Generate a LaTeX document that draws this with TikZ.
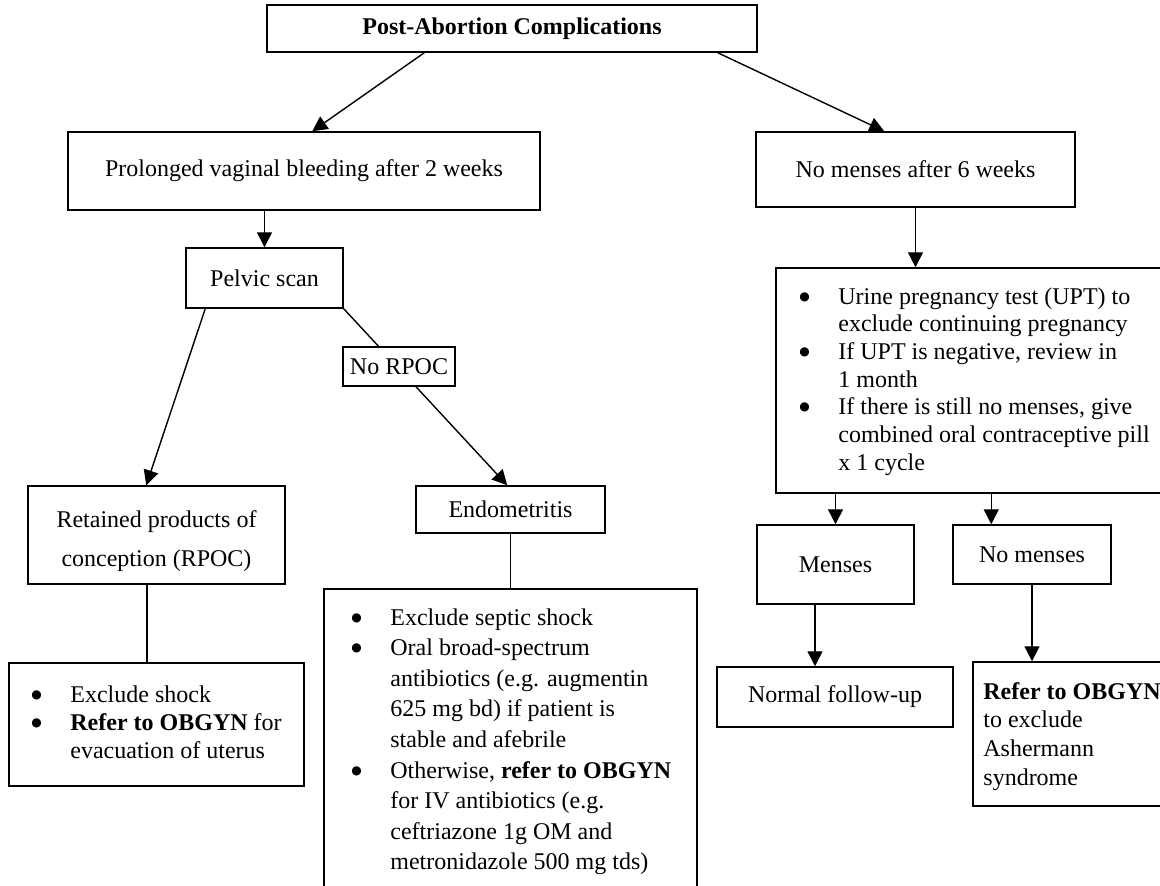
\documentclass[tikz,border=0pt]{standalone}
\usepackage{fontspec}
\setmainfont{Liberation Serif}
\newfontfamily\bulfont{DejaVu Sans}
\usetikzlibrary{arrows.meta}
\newlength\bulind
\setlength\bulind{19.5pt}
\newcommand\blt[1]{\makebox[\bulind][l]{\raisebox{2pt}{\bulfont\fontsize{6}{6}\selectfont ●}}#1}
\newcommand\cont{\hspace*{\bulind}}
\begin{document}
\begin{tikzpicture}[x=0.5pt,y=-0.5pt,
  box/.style={draw, line width=0.75pt, inner sep=0pt, align=center,
    font=\fontsize{12}{14}\selectfont},
  arr/.style={line width=0.7pt, -{Triangle[width=7.5pt,length=7.5pt]}},
  link/.style={line width=0.7pt},
  list/.style={anchor=base west, inner sep=0pt}]
\useasboundingbox (0,0) rectangle (1160,885);
\clip (0,0) rectangle (1160,885);

% boxes
\node[box, minimum width=245pt, minimum height=23.5pt] (title) at (512,28.5)
  {\textbf{Post-Abortion Complications}};
\node[box, minimum width=236pt, minimum height=39pt] (prolonged) at (304,171)
  {Prolonged vaginal bleeding after 2 weeks};
\node[box, minimum width=159.5pt, minimum height=37.5pt] (nm6) at (915.5,169.5)
  {No menses after 6 weeks};
\node[box, minimum width=78.5pt, minimum height=30pt] (pelvic) at (264.5,278) {Pelvic scan};
\node[box, minimum width=128.5pt, minimum height=49pt] (retained) at (156.5,535) {};
\node[box, minimum width=94.5pt, minimum height=23.5pt] (endo) at (510.5,509.5) {Endometritis};
\node[box, minimum width=147.5pt, minimum height=61.5pt] (rbul) at (156.5,724.5) {};
\node[box, minimum width=186.5pt, minimum height=155.5pt] (sbul) at (510.5,744.5) {};
\node[box, minimum width=199.5pt, minimum height=112.5pt] (upt) at (975.5,380.5) {};
\node[box, minimum width=78.5pt, minimum height=39.5pt] (menses) at (835.5,564.5) {Menses};
\node[box, minimum width=79pt, minimum height=29.5pt] (nomenses) at (1032,554.5) {No menses};
\node[box, minimum width=118pt, minimum height=30pt] (normal) at (835,697) {Normal follow-up};
\node[box, minimum width=101pt, minimum height=72pt] (refer) at (1074,734) {};

% box texts
\node[inner sep=0pt, align=center, font=\fontsize{12}{19.5}\selectfont] (rettxt) at (156.5,541)
  {Retained products of\\conception (RPOC)};
\node[list] (rtxt) at (31,702) {\parbox[t]{200pt}{\fontsize{12}{14}\selectfont
  \blt{Exclude shock}\\
  \blt{\textbf{Refer to OBGYN} for}\\
  \cont evacuation of uterus}};
\node[list] (stxt) at (351,625) {\parbox[t]{220pt}{\fontsize{12}{15.3}\selectfont
  \blt{Exclude septic shock}\\
  \blt{Oral broad-spectrum}\\
  \cont antibiotics (e.g. augmentin\\
  \cont 625 mg bd) if patient is\\
  \cont stable and afebrile\\
  \blt{Otherwise, \textbf{refer to OBGYN}}\\
  \cont for IV antibiotics (e.g.\\
  \cont ceftriazone 1g OM and\\
  \cont metronidazole 500 mg tds)}};
\node[list] (utxt) at (799,304) {\parbox[t]{220pt}{\fontsize{12}{13.85}\selectfont
  \blt{Urine pregnancy test (UPT) to}\\
  \cont exclude continuing pregnancy\\
  \blt{If UPT is negative, review in}\\
  \cont 1 month\\
  \blt{If there is still no menses, give}\\
  \cont combined oral contraceptive pill\\
  \cont x 1 cycle}};
\node[list] (ftxt) at (983,699) {\parbox[t]{150pt}{\fontsize{12}{14.35}\selectfont
  \textbf{Refer to OBGYN}\\
  to exclude\\
  Ashermann\\
  syndrome}};

% connectors
\draw[arr] ([xshift=79pt]title.south west) -- ([xshift=122.5pt]prolonged.north west);
\draw[arr] ([xshift=-20pt]title.south east) -- ([xshift=64.5pt]nm6.north west);
\draw[arr] (pelvic.north |- prolonged.south) -- (pelvic.north);
\draw[arr] ([xshift=10pt]pelvic.south west) -- ([xshift=59.5pt]retained.north west);
\draw[arr] (pelvic.south east) -- ([xshift=46pt]endo.north west);
\draw[link] (endo.south) -- (endo.south |- sbul.north);
\draw[link] ([xshift=-4.75pt]retained.south) coordinate (rs) -- (rs |- rbul.north);
\draw[arr] (nm6.south) -- (nm6.south |- upt.north);
\draw[arr] (menses.north |- upt.south) -- (menses.north);
\draw[arr] ([xshift=19.5pt]nomenses.north west |- upt.south) -- ([xshift=19.5pt]nomenses.north west);
\draw[arr] ([xshift=-10.25pt]menses.south) coordinate (ms) -- (ms |- normal.north);
\draw[arr] (nomenses.south) -- (nomenses.south |- refer.north);

% label box sitting on the scan-to-endometritis line
\node[box, fill=white, minimum width=56pt, minimum height=19.5pt] (norpoc) at (399,366.5) {No RPOC};
\end{tikzpicture}
\end{document}
